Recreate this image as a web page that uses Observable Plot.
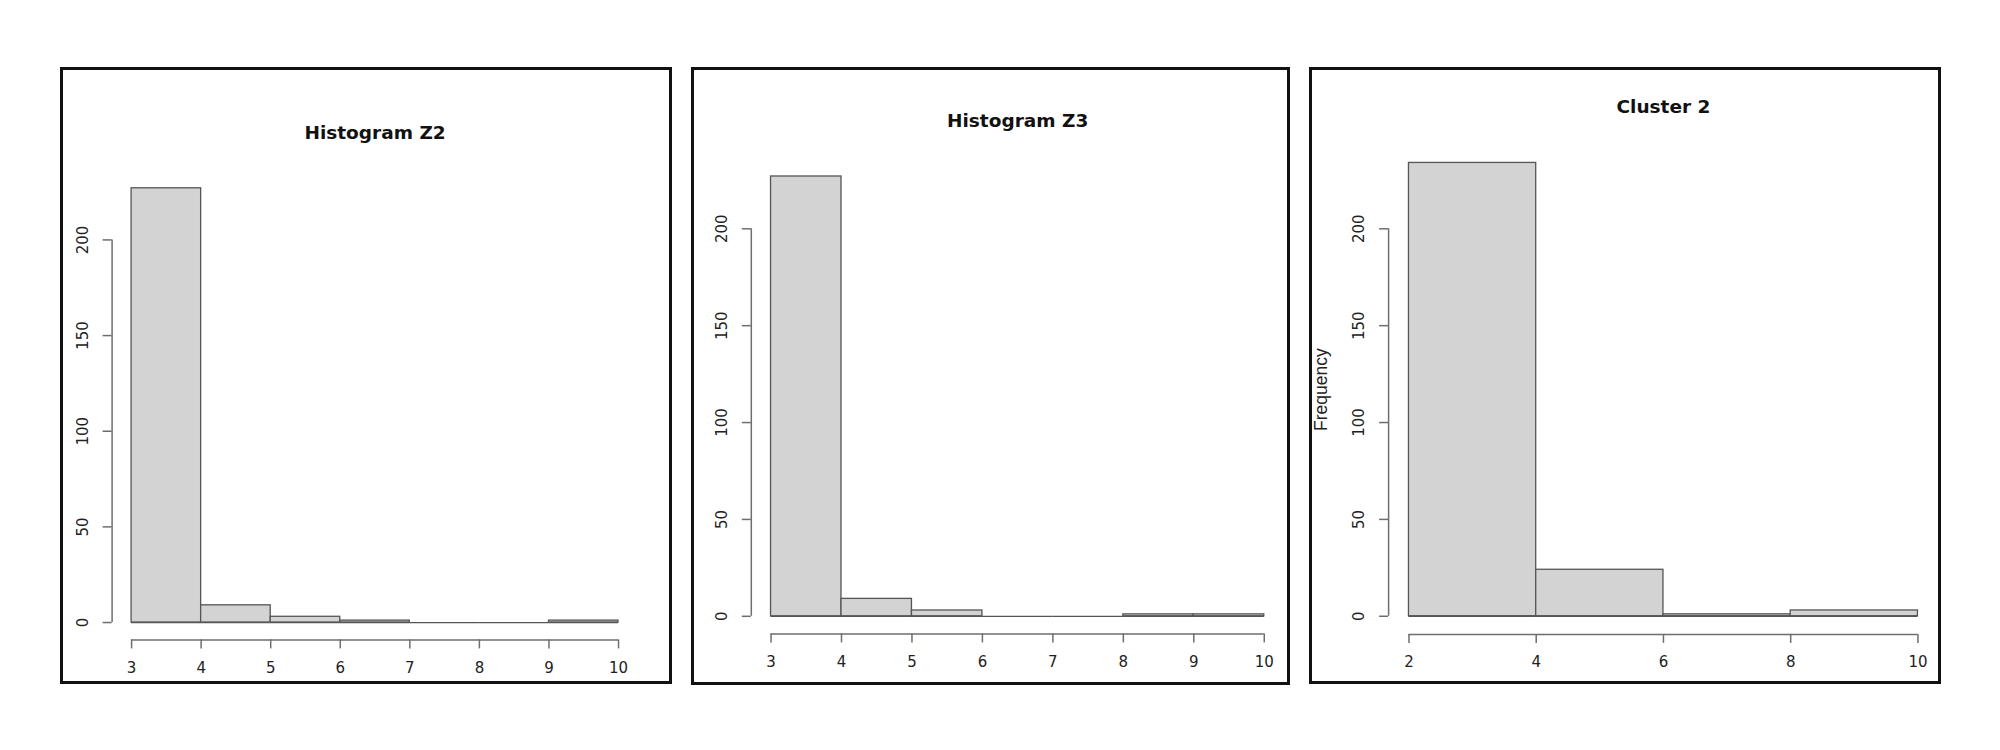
<!DOCTYPE html>
<html>
<head>
<meta charset="utf-8">
<script src="https://cdn.jsdelivr.net/npm/d3@7"></script>
<script src="https://cdn.jsdelivr.net/npm/@observablehq/plot@0.6"></script>
<style>
  html, body { margin: 0; padding: 0; background: #fff; }
  #page { position: relative; width: 2000px; height: 750px; background: #fff; overflow: hidden; }
  .panel { position: absolute; }
  .frame { position: absolute; box-sizing: border-box; border: 3px solid #111; pointer-events: none; }
</style>
</head>
<body>
<div id="page"></div>
<script>
// ---- Data ----
const titles = ["Histogram Z2", "Histogram Z3", "Cluster 2"];

const z2Breaks = [3, 4, 5, 6, 7, 8, 9, 10];
const z2Counts = [227, 9, 3, 1, 0, 0, 1];

const z3Breaks = [3, 4, 5, 6, 7, 8, 9, 10];
const z3Counts = [227, 9, 3, 0, 0, 1, 1];

const c2Breaks = [2, 4, 6, 8, 10];
const c2Counts = [234, 24, 1, 3];

const yTicks = [0, 50, 100, 150, 200];
const zTicks = [3, 4, 5, 6, 7, 8, 9, 10];
const cTicks = [2, 4, 6, 8, 10];
const c2YLabel = "Frequency";

// ---- Layout ----
const panels = [
  {title: titles[0], breaks: z2Breaks, counts: z2Counts, xTicks: zTicks, ylabel: null,
   box: {left: 62, top: 68, width: 608, height: 614},
   margin: {left: 49.6, right: 32.5, top: 102.4, bottom: 42.6},
   frame: {left: 60, top: 66.5, width: 611.5, height: 617}},
  {title: titles[1], breaks: z3Breaks, counts: z3Counts, xTicks: zTicks, ylabel: null,
   box: {left: 693, top: 68, width: 595, height: 615},
   margin: {left: 57.8, right: 4.5, top: 90.4, bottom: 49.6},
   frame: {left: 691, top: 67, width: 598.5, height: 617.5}},
  {title: titles[2], breaks: c2Breaks, counts: c2Counts, xTicks: cTicks, ylabel: c2YLabel,
   box: {left: 1310, top: 68, width: 629, height: 614},
   margin: {left: 78.1, right: 1.2, top: 76.3, bottom: 48.1},
   frame: {left: 1308.5, top: 66.5, width: 632, height: 617}}
];

const page = document.getElementById("page");
const barFill = "#d3d3d3";
const barStroke = "#555";
const axisStroke = "#6e6e6e";
const labelColor = "#222";

for (const p of panels) {
  const bins = p.counts.map((c, i) => ({x1: p.breaks[i], x2: p.breaks[i + 1], count: c}));
  const b0 = p.breaks[0], bn = p.breaks[p.breaks.length - 1];
  const ext = 0.04 * (bn - b0);
  const maxC = d3.max(p.counts);
  const xDomain = [b0 - ext, bn + ext];
  const yDomain = [-0.04 * maxC, 1.04 * maxC];

  const marks = [
    Plot.rectY(bins, {x1: "x1", x2: "x2", y1: 0, y2: "count", fill: barFill, stroke: barStroke, strokeWidth: 1.3}),
    Plot.ruleY(bins, {x1: "x1", x2: "x2", y: 0, stroke: barStroke, strokeWidth: 1.3}),
    // y axis (R style, detached)
    Plot.ruleX([xDomain[0]], {y1: yTicks[0], y2: yTicks[yTicks.length - 1], stroke: axisStroke, strokeWidth: 1.5}),
    Plot.axisY(yTicks, {tickSize: 9, tickFormat: () => "", label: null, stroke: axisStroke, strokeWidth: 1.5}),
    Plot.text(yTicks, {y: d => d, frameAnchor: "left", dx: -29, rotate: -90, textAnchor: "middle", lineAnchor: "middle",
      text: d => String(d), fontSize: 15, fill: labelColor}),
    // x axis (R style, detached)
    Plot.ruleY([yDomain[0]], {x1: p.xTicks[0], x2: p.xTicks[p.xTicks.length - 1], stroke: axisStroke, strokeWidth: 1.5}),
    Plot.axisX(p.xTicks, {tickSize: 9, tickFormat: () => "", label: null, stroke: axisStroke, strokeWidth: 1.5}),
    Plot.text(p.xTicks, {x: d => d, frameAnchor: "bottom", dy: 28, lineAnchor: "middle", text: d => String(d), fontSize: 15, fill: labelColor}),
    // title
    Plot.text([p.title], {frameAnchor: "top", dy: -38, lineAnchor: "middle", textAnchor: "middle", text: d => d,
      fontWeight: "bold", fontSize: 18.5, fill: "#111"})
  ];
  if (p.ylabel) {
    marks.push(Plot.text([p.ylabel], {frameAnchor: "left", dx: -67, rotate: -90, textAnchor: "middle", lineAnchor: "middle",
      text: d => d, fontSize: 17.5, fill: labelColor,
      fontFamily: "'Liberation Sans Narrow', 'Liberation Sans', sans-serif"}));
  }

  const chart = Plot.plot({
    width: p.box.width,
    height: p.box.height,
    marginLeft: p.margin.left,
    marginRight: p.margin.right,
    marginTop: p.margin.top,
    marginBottom: p.margin.bottom,
    x: {domain: xDomain, axis: null},
    y: {domain: yDomain, axis: null},
    style: {background: "transparent", fontFamily: "DejaVu Sans, sans-serif", overflow: "visible"},
    marks
  });

  const holder = document.createElement("div");
  holder.className = "panel";
  holder.style.left = p.box.left + "px";
  holder.style.top = p.box.top + "px";
  holder.style.width = p.box.width + "px";
  holder.style.height = p.box.height + "px";
  holder.appendChild(chart);
  page.appendChild(holder);

  const frame = document.createElement("div");
  frame.className = "frame";
  frame.style.left = p.frame.left + "px";
  frame.style.top = p.frame.top + "px";
  frame.style.width = p.frame.width + "px";
  frame.style.height = p.frame.height + "px";
  page.appendChild(frame);
}
</script>
</body>
</html>
